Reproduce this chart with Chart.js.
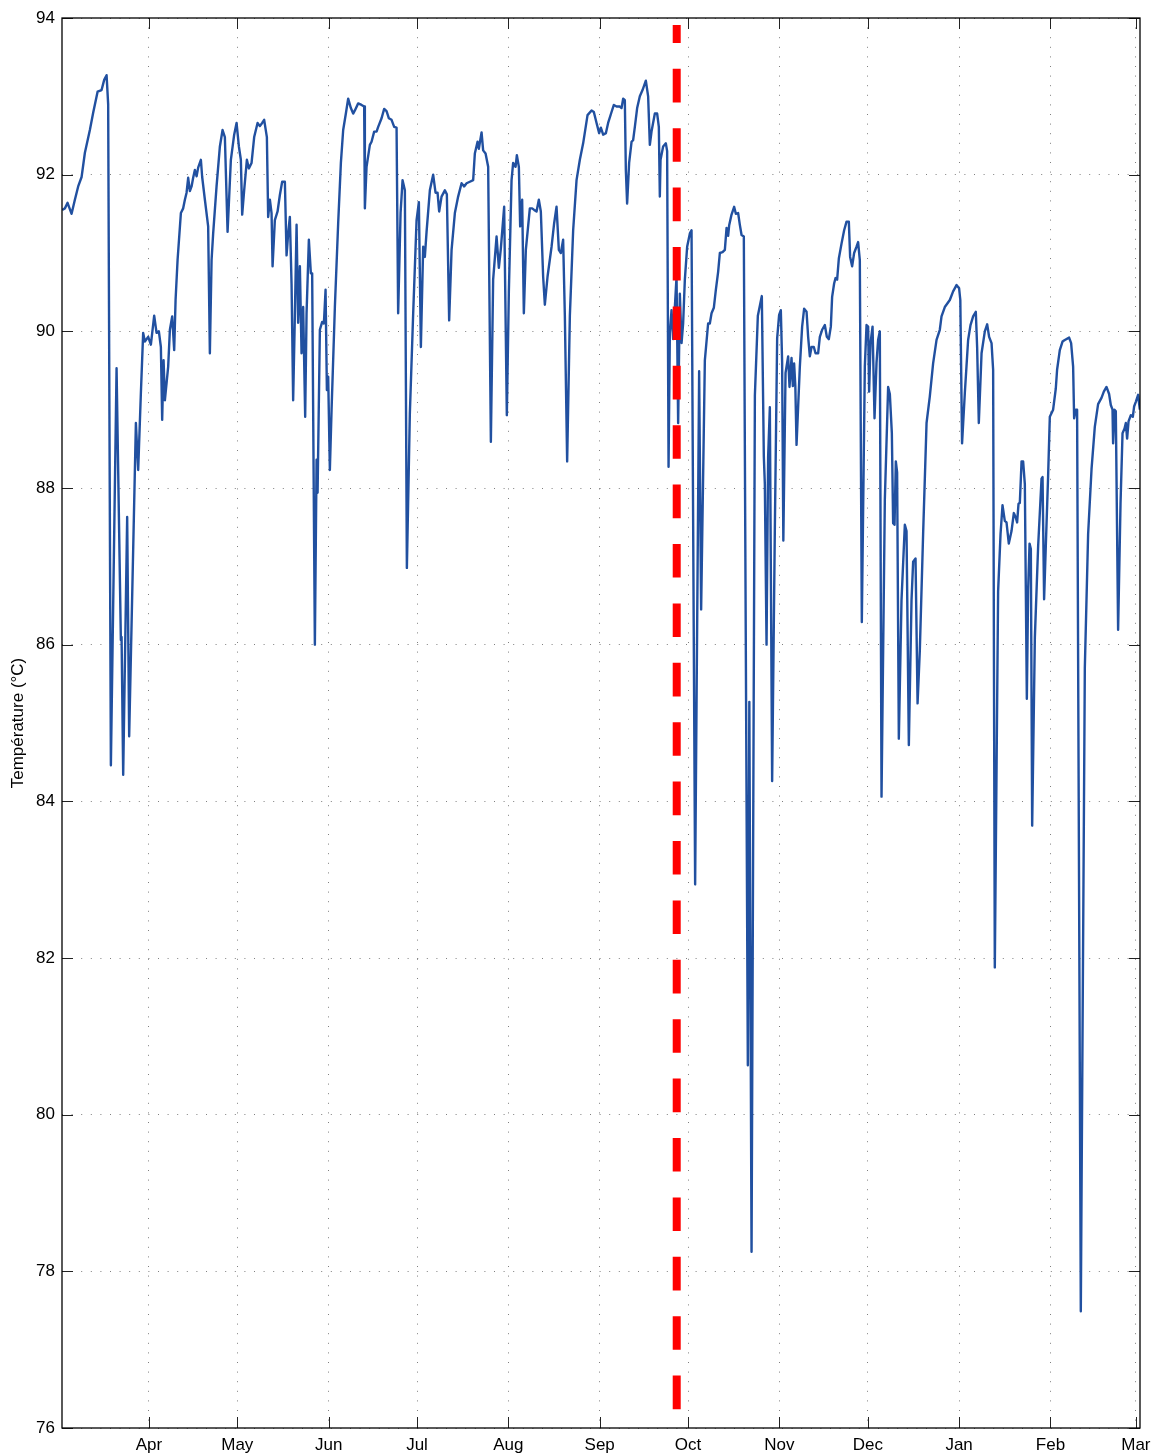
<!DOCTYPE html>
<html><head><meta charset="utf-8">
<script src="https://cdn.jsdelivr.net/npm/chart.js@4.4.1/dist/chart.umd.min.js"></script>
<style>html,body{margin:0;padding:0;background:#fff;}#wrap{width:1152px;height:1454px;}</style>
</head><body><div id="wrap"><canvas id="c" width="1152" height="1454"></canvas></div>
<script>
// x values: days counted from 1 March (leap year, so 1 March next year = 366)
const monthTicks = [31, 61, 92, 122, 153, 184, 214, 245, 275, 306, 337, 366];
const monthLabels = ['Apr', 'May', 'Jun', 'Jul', 'Aug', 'Sep', 'Oct', 'Nov', 'Dec', 'Jan', 'Feb', 'Mar'];
const yTicks = [76, 78, 80, 82, 84, 86, 88, 90, 92, 94];

const days = [1.56,2.48,3.39,4.75,5.87,6.99,8.15,9.27,10.96,12.08,13.58,14.93,15.82,16.63,17.17,18.09,20.02,21.48,21.72,22.27,23.62,24.30,26.58,27.36,28.27,29.05,29.63,30.75,31.67,32.79,33.60,34.38,35.06,35.50,35.98,36.42,37.54,38.12,38.90,39.58,40.05,40.73,41.85,42.63,43.21,43.78,44.33,44.90,45.48,46.02,46.60,47.18,47.72,48.64,49.08,50.00,51.11,51.69,52.27,52.81,53.96,55.09,56.00,56.78,57.70,58.82,59.94,60.75,61.54,62.21,62.66,63.33,64.25,64.93,65.84,66.73,67.88,68.66,69.44,70.12,71.04,71.48,72.06,72.63,72.97,73.75,74.67,75.45,76.23,77.15,77.72,78.27,78.84,79.42,79.96,80.54,81.12,81.66,82.24,82.81,83.36,84.04,84.51,85.29,85.97,86.41,87.33,87.91,88.25,89.03,89.81,90.39,90.96,91.41,91.85,92.42,93.00,94.12,95.24,96.16,96.94,97.85,98.63,99.55,100.33,100.91,102.03,103.18,104.06,104.30,104.87,106.00,106.57,107.46,108.27,108.82,109.97,110.85,111.66,112.45,113.36,114.25,115.06,115.60,116.42,117.10,117.88,118.56,119.57,120.70,121.85,122.63,123.31,124.09,124.66,125.24,126.36,127.48,128.29,128.97,129.52,130.33,131.45,132.13,132.91,133.73,134.85,135.96,137.12,138.00,138.82,139.94,141.06,141.63,142.55,142.99,143.91,144.45,145.27,146.15,147.07,147.84,149.00,149.78,150.46,151.58,152.49,153.17,154.09,154.63,155.45,155.89,156.57,157.01,157.69,158.26,158.94,160.30,161.08,161.76,162.57,163.35,164.03,164.81,165.39,166.31,167.67,168.55,169.36,170.14,170.82,171.60,172.18,172.96,173.88,175.00,176.15,177.27,178.39,179.88,181.24,182.02,182.94,183.82,184.40,185.18,186.10,186.87,188.03,188.81,189.73,190.85,191.42,191.97,192.54,192.88,193.32,194.00,194.82,195.36,195.94,196.72,197.63,198.55,199.67,200.45,201.03,201.60,202.73,203.51,204.08,204.42,204.66,205.54,206.46,206.90,207.38,207.82,208.39,208.94,209.51,210.09,210.64,211.21,211.79,212.33,212.91,213.69,214.61,215.18,216.40,217.76,218.44,219.70,220.81,221.39,221.97,222.75,223.43,224.21,224.79,225.70,226.49,227.07,227.60,227.94,228.76,229.64,230.22,231.00,231.58,232.16,232.93,234.29,234.80,235.55,236.68,237.69,239.04,239.72,240.06,240.64,241.18,241.76,242.54,243.45,244.24,244.91,245.49,245.93,246.34,247.09,247.97,248.44,249.12,249.56,250.00,250.41,250.82,251.94,252.72,253.40,254.22,254.76,255.34,255.91,256.69,257.27,258.15,258.73,259.51,260.42,261.10,261.78,262.46,262.90,263.58,264.06,264.60,265.18,266.09,266.98,267.79,268.57,269.01,269.69,270.37,271.18,271.72,272.30,272.98,274.00,274.58,275.12,275.46,275.93,276.62,277.29,277.97,278.51,279.09,279.67,280.79,281.91,282.49,283.17,283.61,284.08,284.52,284.96,285.54,286.45,287.58,288.15,288.94,289.85,290.40,291.21,291.90,292.67,293.79,294.95,296.06,297.18,298.34,299.45,300.03,301.15,302.85,303.97,305.12,306.00,306.41,307.00,307.94,309.06,309.87,310.76,311.67,312.12,312.69,313.62,314.73,315.52,316.19,317.01,317.55,318.12,319.24,320.06,320.73,321.51,322.09,322.87,323.79,324.57,325.25,325.69,326.17,326.61,327.20,327.73,328.31,328.99,329.43,329.91,330.35,330.80,331.71,332.83,333.98,334.32,334.85,335.43,336.21,336.79,337.91,338.82,339.26,340.18,341.10,341.88,343.34,344.02,344.70,345.04,345.61,346.05,347.31,348.67,349.79,350.95,352.06,353.18,354.33,355.12,356.03,356.91,357.49,358.07,358.27,358.75,359.19,359.97,360.79,361.47,362.15,362.59,363.03,363.51,364.29,364.97,365.40,365.98,366.76,367.34];

const temps = [91.55,91.57,91.64,91.50,91.68,91.85,91.97,92.28,92.57,92.79,93.06,93.08,93.21,93.27,92.90,84.46,89.53,86.06,86.10,84.34,87.63,84.83,88.83,88.23,89.21,89.98,89.87,89.93,89.83,90.20,89.98,90.00,89.80,88.87,89.63,89.12,89.55,90.02,90.19,89.76,90.40,90.91,91.51,91.57,91.68,91.77,91.96,91.79,91.85,91.96,92.06,91.98,92.09,92.19,91.97,91.68,91.34,89.72,90.91,91.25,91.85,92.36,92.57,92.48,91.27,92.19,92.51,92.66,92.36,92.19,91.49,91.80,92.19,92.08,92.15,92.48,92.66,92.62,92.66,92.70,92.48,91.46,91.68,91.51,90.83,91.42,91.53,91.74,91.91,91.91,90.97,91.25,91.46,90.60,89.12,90.20,91.36,90.11,90.83,89.72,90.31,88.91,90.23,91.17,90.74,90.74,86.00,88.36,87.94,90.02,90.12,90.10,90.53,89.25,89.42,88.23,89.00,90.31,91.38,92.15,92.57,92.78,92.97,92.85,92.78,92.82,92.91,92.89,92.87,91.57,92.10,92.38,92.42,92.55,92.55,92.61,92.72,92.84,92.81,92.72,92.70,92.61,92.60,90.23,91.51,91.93,91.80,86.98,88.95,90.23,91.42,91.65,89.80,91.08,90.95,91.27,91.80,92.00,91.77,91.77,91.53,91.72,91.80,91.75,90.14,91.04,91.51,91.72,91.89,91.85,91.89,91.91,91.93,92.27,92.42,92.33,92.54,92.31,92.27,92.10,88.59,90.66,91.21,90.81,91.06,91.59,88.93,90.50,91.93,92.15,92.10,92.25,92.10,91.34,91.68,90.23,91.04,91.57,91.57,91.55,91.53,91.68,91.53,90.70,90.34,90.70,91.08,91.38,91.59,91.04,91.00,91.17,90.20,88.34,90.20,91.29,91.93,92.19,92.40,92.76,92.82,92.80,92.66,92.53,92.60,92.51,92.53,92.66,92.80,92.89,92.87,92.87,92.85,92.97,92.95,92.06,91.63,92.15,92.42,92.44,92.61,92.85,93.00,93.08,93.20,93.00,92.38,92.55,92.78,92.78,92.61,91.72,92.19,92.36,92.40,92.30,88.27,89.98,90.27,89.90,90.30,90.70,88.83,90.48,89.85,90.10,90.66,91.08,91.25,91.29,82.94,89.49,86.45,89.63,90.10,90.10,90.23,90.30,90.53,90.76,91.00,91.01,91.04,91.32,91.22,91.35,91.49,91.59,91.50,91.51,91.36,91.23,91.21,80.63,85.27,78.25,89.18,90.20,90.45,88.40,88.05,86.00,88.40,89.03,84.26,87.46,89.91,90.21,90.27,89.60,87.33,89.47,89.68,89.29,89.66,89.30,89.59,89.30,88.55,89.55,90.06,90.29,90.25,89.93,89.68,89.80,89.80,89.72,89.72,89.93,90.02,90.08,89.93,89.90,90.06,90.44,90.61,90.68,90.66,90.93,91.12,91.29,91.40,91.40,90.95,90.83,91.00,91.08,91.14,90.91,86.29,89.55,90.08,90.06,89.23,89.85,90.06,88.89,89.60,89.89,90.00,84.06,87.85,89.29,89.20,88.70,87.55,87.53,88.34,88.20,84.80,86.57,87.53,87.45,84.72,86.57,87.06,87.10,85.25,85.93,87.42,88.83,89.17,89.59,89.89,90.02,90.19,90.31,90.40,90.51,90.59,90.55,90.40,88.57,89.21,89.89,90.08,90.19,90.25,89.80,88.83,89.72,90.00,90.09,89.93,89.85,89.51,81.88,86.68,87.41,87.78,87.58,87.56,87.29,87.45,87.68,87.62,87.56,87.80,87.81,88.34,88.34,88.05,85.31,86.70,87.29,87.22,83.69,86.09,87.26,88.12,88.14,86.58,87.26,88.15,88.91,89.00,89.27,89.51,89.76,89.87,89.89,89.92,89.85,89.55,88.89,89.00,89.00,77.49,85.70,87.41,88.24,88.78,89.07,89.15,89.23,89.29,89.20,89.06,89.00,88.57,89.00,88.98,86.19,87.80,88.70,88.76,88.83,88.63,88.85,88.93,88.91,89.04,89.10,89.19,89.00];

// vertical red dashed marker
const markerDays = [210.15, 210.15];
const markerTemps = [76.24, 93.91];

const FONT = "'Liberation Sans', Arial, Helvetica, sans-serif";

const frame = {
  id: 'frame',
  afterDraw(chart) {
    const {ctx, chartArea: a, scales: {x, y}} = chart;
    ctx.save();
    ctx.strokeStyle = '#222';
    ctx.lineWidth = 1;
    const L = 11;
    ctx.beginPath();
    x.ticks.forEach(t => {
      const px = Math.round(x.getPixelForValue(t.value)) + 0.5;
      ctx.moveTo(px, a.bottom); ctx.lineTo(px, a.bottom - L);
      ctx.moveTo(px, a.top); ctx.lineTo(px, a.top + L);
    });
    y.ticks.forEach(t => {
      const py = Math.round(y.getPixelForValue(t.value)) + 0.5;
      ctx.moveTo(a.left, py); ctx.lineTo(a.left + L, py);
      ctx.moveTo(a.right, py); ctx.lineTo(a.right - L, py);
    });
    ctx.stroke();
    ctx.strokeStyle = '#000';
    ctx.lineWidth = 1.3;
    ctx.strokeRect(a.left, a.top, a.right - a.left, a.bottom - a.top);
    ctx.restore();
  }
};

new Chart(document.getElementById('c'), {
  type: 'line',
  data: {
    datasets: [
      {
        label: 'marker',
        data: markerDays.map((d, i) => ({x: d, y: markerTemps[i]})),
        borderColor: '#ff0000',
        borderWidth: 8,
        borderDash: [33.6, 25.8],
        borderCapStyle: 'butt',
        pointRadius: 0,
        order: 1
      },
      {
        label: 'Température',
        data: days.map((d, i) => ({x: d, y: temps[i]})),
        borderColor: '#2150a0',
        borderWidth: 2.4,
        pointRadius: 0,
        tension: 0,
        borderJoinStyle: 'round',
        order: 2
      }
    ]
  },
  options: {
    responsive: false,
    animation: false,
    devicePixelRatio: 1,
    layout: {padding: {left: 0, top: 18, right: 12, bottom: 0}},
    plugins: {legend: {display: false}, tooltip: {enabled: false}},
    scales: {
      x: {
        type: 'linear',
        min: 1.5,
        max: 367.4,
        afterBuildTicks: s => { s.ticks = monthTicks.map(v => ({value: v})); },
        afterFit: s => { s.height = 26; s.paddingLeft = 0; s.paddingRight = 0; },
        ticks: {
          autoSkip: false, maxRotation: 0, minRotation: 0,
          padding: 7, color: '#000',
          font: {family: FONT, size: 17},
          callback: (v, i) => monthLabels[i]
        },
        grid: {color: 'rgba(0,0,0,0.5)', lineWidth: 1, drawTicks: false},
        border: {display: false, dash: [1, 8.6]}
      },
      y: {
        type: 'linear',
        min: 76,
        max: 94,
        afterBuildTicks: s => { s.ticks = yTicks.map(v => ({value: v})); },
        afterFit: s => { s.width = 62; s.paddingTop = 0; s.paddingBottom = 0; },
        ticks: {padding: 7, color: '#000', font: {family: FONT, size: 17}},
        grid: {color: 'rgba(0,0,0,0.5)', lineWidth: 1, drawTicks: false},
        border: {display: false, dash: [1, 8.6]},
        title: {display: true, text: 'Température (°C)', color: '#000',
                font: {family: FONT, size: 17}, padding: {top: 8, bottom: 0}}
      }
    }
  },
  plugins: [frame]
});
</script>
</body></html>
